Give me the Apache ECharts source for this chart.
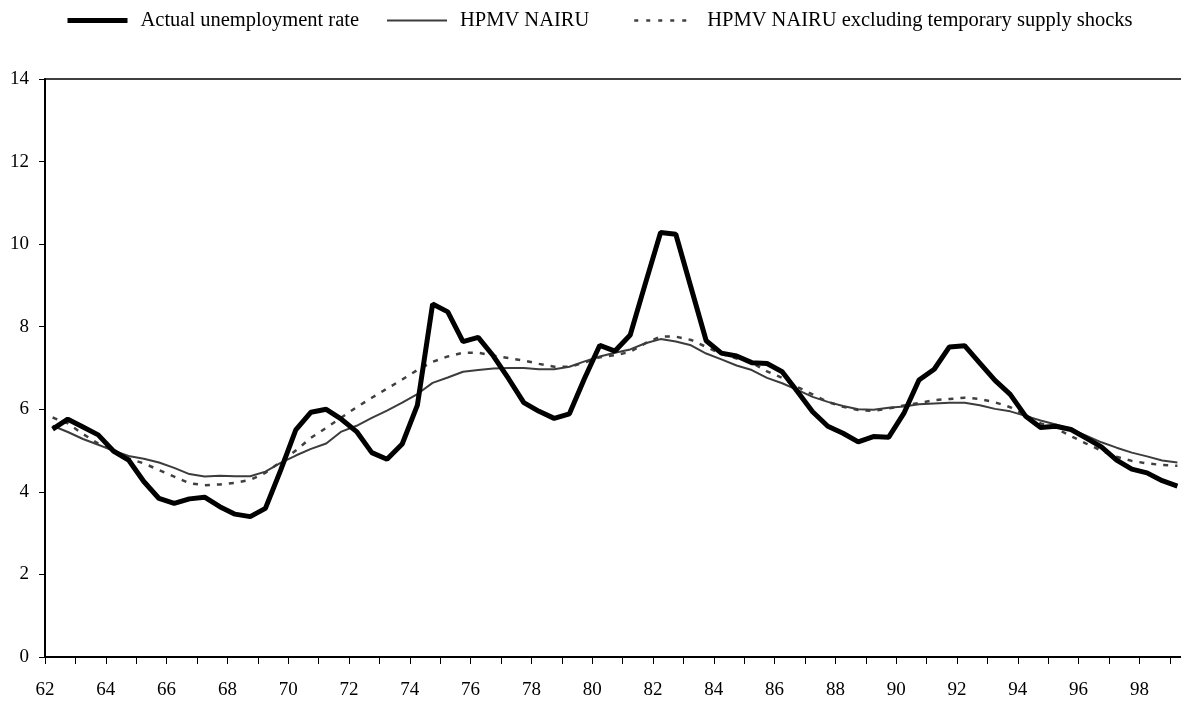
<!DOCTYPE html>
<html>
<head>
<meta charset="utf-8">
<script src="https://cdn.jsdelivr.net/npm/echarts@6/dist/echarts.min.js"></script>
<style>
html,body{margin:0;padding:0;background:#fff;}
#chart{width:1181px;height:702px;}
</style>
</head>
<body>
<div id="chart"></div>
<script>
// Half-year periods 1962H1 .. 1999H1 (x = year + 0.25 / +0.75)
const startYear = 62;
const nPoints = 75;
const actualRate = [5.52,5.76,5.57,5.38,4.99,4.77,4.25,3.84,3.72,3.83,3.87,3.64,3.46,3.40,3.60,4.52,5.50,5.93,6.00,5.76,
  5.46,4.95,4.79,5.16,6.10,8.55,8.36,7.64,7.74,7.29,6.74,6.16,5.95,5.78,5.89,6.75,7.55,7.41,7.80,9.05,
  10.28,10.24,8.95,7.66,7.36,7.29,7.13,7.11,6.91,6.43,5.94,5.59,5.42,5.21,5.34,5.32,5.90,6.71,6.97,7.51,
  7.54,7.12,6.70,6.36,5.84,5.56,5.59,5.51,5.30,5.09,4.77,4.55,4.46,4.27,4.14];
const nairu = [5.60,5.45,5.28,5.14,5.00,4.87,4.80,4.71,4.58,4.43,4.37,4.39,4.38,4.38,4.49,4.70,4.88,5.04,5.17,5.46,
  5.60,5.79,5.97,6.16,6.37,6.64,6.77,6.91,6.95,6.99,7.00,7.00,6.97,6.97,7.03,7.16,7.28,7.37,7.45,7.60,
  7.70,7.64,7.55,7.35,7.21,7.06,6.95,6.76,6.63,6.47,6.30,6.18,6.08,6.00,5.99,6.04,6.07,6.12,6.14,6.16,
  6.16,6.10,6.01,5.95,5.84,5.73,5.63,5.52,5.36,5.20,5.07,4.95,4.86,4.76,4.71];
const nairuExShocks = [5.80,5.66,5.40,5.17,5.00,4.81,4.69,4.53,4.37,4.21,4.16,4.18,4.22,4.29,4.46,4.73,5.00,5.31,5.55,5.80,
  6.05,6.28,6.50,6.72,6.95,7.15,7.28,7.37,7.37,7.30,7.24,7.18,7.10,7.03,7.03,7.13,7.26,7.31,7.39,7.60,
  7.76,7.76,7.68,7.51,7.34,7.23,7.13,6.92,6.76,6.54,6.36,6.18,6.06,5.98,5.96,6.02,6.09,6.15,6.22,6.25,
  6.28,6.25,6.17,6.05,5.86,5.66,5.54,5.35,5.17,5.00,4.85,4.75,4.69,4.65,4.63];
const seriesNames = ['Actual unemployment rate','HPMV NAIRU','HPMV NAIRU excluding temporary supply shocks'];
const yTicks = [0,2,4,6,8,10,12,14];

const periods = [];
for (let k = 0; k < nPoints; k++) periods.push(startYear + 0.25 + 0.5 * k);
const pair = arr => arr.map((v, i) => [periods[i], v]);

const FONT = "'Liberation Serif','Times New Roman',serif";
const chart = echarts.init(document.getElementById('chart'), null, {renderer:'canvas'});
const legendBase = {
  top: 5, itemWidth: 60, itemHeight: 14, orient: 'horizontal',
  itemStyle: {opacity: 0},
  textStyle: {fontFamily: FONT, fontSize: 20.5, color: '#000', padding: [0,0,0,8]},
  selectedMode: false
};
chart.setOption({
  animation: false,
  backgroundColor: '#fff',
  legend: [
    Object.assign({}, legendBase, {left: 60, data: [seriesNames[0]], lineStyle: {width: 5, color: '#000'}}),
    Object.assign({}, legendBase, {left: 381, data: [seriesNames[1]], lineStyle: {width: 2, color: '#3c3c3c'}}),
    Object.assign({}, legendBase, {left: 628, data: [seriesNames[2]], lineStyle: {width: 2.5, color: '#404040', type: [4, 8]}})
  ],
  grid: {left: 45, width: 1140, top: 79, height: 578, show: true, borderColor: '#000', borderWidth: 1.5,
         containLabel: false, outerBoundsMode: 'none'},
  xAxis: {
    type: 'value', min: 62, max: 99.5, interval: 1,
    splitLine: {show: false},
    axisLine: {show: true, onZero: false, lineStyle: {color: '#000', width: 2}},
    axisTick: {show: true, inside: false, length: 7, lineStyle: {color: '#000', width: 1}},
    axisLabel: {
      margin: 24, color: '#000', fontFamily: FONT, fontSize: 19,
      showMinLabel: true, showMaxLabel: true,
      formatter: v => (Math.abs(v - Math.round(v)) < 1e-6 && Math.round(v) % 2 === 0) ? String(Math.round(v)) : ''
    }
  },
  yAxis: {
    type: 'value', min: 0, max: 14, interval: 2,
    splitLine: {show: false},
    axisLine: {show: true, lineStyle: {color: '#000', width: 2}},
    axisTick: {show: true, length: 6, lineStyle: {color: '#000', width: 1}},
    axisLabel: {margin: 16, color: '#000', fontFamily: FONT, fontSize: 19,
      formatter: v => yTicks.indexOf(v) >= 0 ? String(v) : ''}
  },
  series: [
    {name: seriesNames[0], type: 'line', data: pair(actualRate), symbol: 'none', z: 5,
     lineStyle: {color: '#000', width: 5}, itemStyle: {color: '#000'}},
    {name: seriesNames[1], type: 'line', data: pair(nairu), symbol: 'none', z: 4,
     lineStyle: {color: '#3c3c3c', width: 2}, itemStyle: {color: '#3c3c3c'}},
    {name: seriesNames[2], type: 'line', data: pair(nairuExShocks), symbol: 'none', z: 3,
     lineStyle: {color: '#404040', width: 2.5, type: [5, 7]}, itemStyle: {color: '#404040'}}
  ]
});
</script>
</body>
</html>
